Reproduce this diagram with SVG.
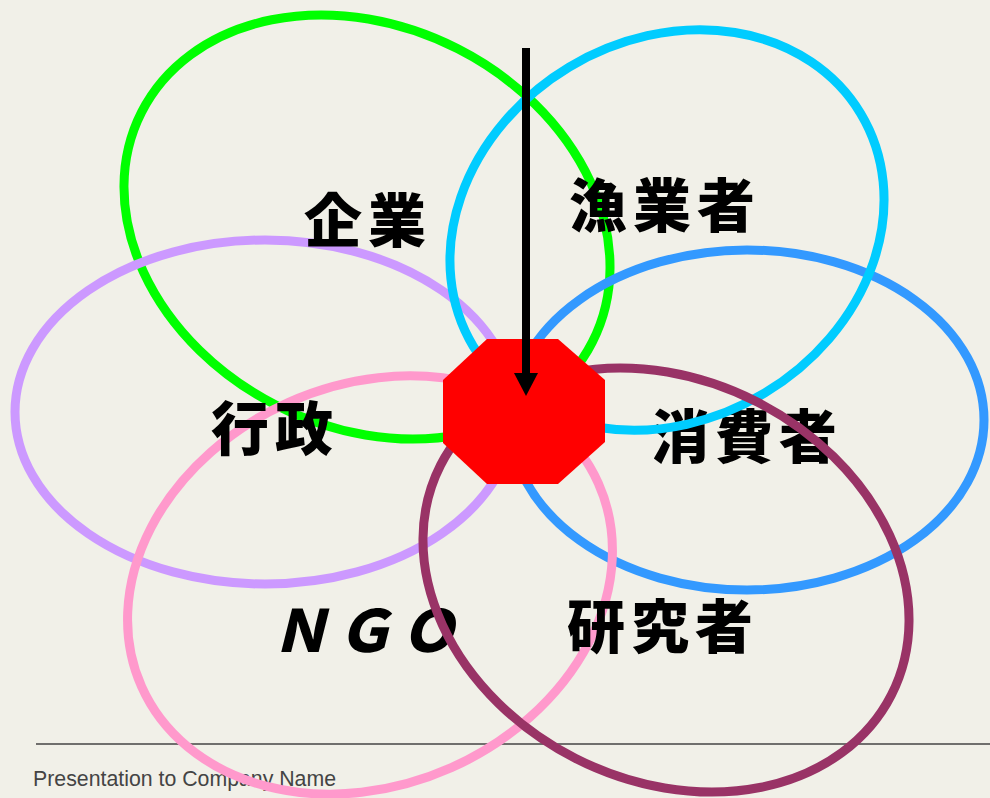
<svg xmlns="http://www.w3.org/2000/svg" width="990" height="798" viewBox="0 0 990 798">
<style>
.petal{fill:none;stroke-width:9}
.lbl{font-family:"Noto Sans CJK JP","Noto Sans CJK SC",sans-serif;font-weight:900;font-size:58px;fill:#000;text-anchor:middle;letter-spacing:6px}
.foot{font-family:"Liberation Sans",Arial,sans-serif;font-size:21.3px;fill:#444}
</style>
<defs>
<marker id="ah" markerWidth="23" markerHeight="24" refX="0" refY="12" orient="auto" markerUnits="userSpaceOnUse" viewBox="0 0 23 24">
<path d="M0,0 L23,12 L0,24 Z" fill="#000"/>
</marker>
</defs>
<rect width="990" height="798" fill="#F1F0E8"/>
<g id="footer">
<line x1="36" y1="744" x2="990" y2="744" stroke="#444" stroke-width="1.5"/>
<text class="foot" x="33" y="786">Presentation to Company Name</text>
</g>
<g id="node-kigyo"><ellipse class="petal" cx="367" cy="227" rx="253" ry="200" transform="rotate(27 367 227)" stroke="#00FF00"/></g>
<g id="node-gyosei"><ellipse class="petal" cx="265" cy="412" rx="250" ry="172" stroke="#CC99FF"/></g>
<g id="label-kigyo"><text class="lbl" x="368" y="242">企業</text></g>
<g id="node-shohisha"><ellipse class="petal" cx="747" cy="420" rx="237" ry="170" stroke="#3399FF"/></g>
<g id="label-shohisha"><text class="lbl" x="747" y="458">消費者</text></g>
<g id="node-gyogyosha"><ellipse class="petal" cx="667" cy="230" rx="226" ry="190" transform="rotate(-31 667 230)" stroke="#00CCFF"/></g>
<g id="label-gyogyosha"><text class="lbl" x="665" y="227">漁業者</text></g>
<g id="node-ngo"><ellipse class="petal" cx="370" cy="585" rx="250" ry="200" transform="rotate(-24 370 585)" stroke="#FF99CC"/></g>
<g id="label-gyosei"><text class="lbl" x="275" y="450">行政</text></g>
<g id="label-ngo"><text class="lbl" x="367" y="652" font-style="italic">ＮＧＯ</text></g>
<g id="node-kenkyusha"><ellipse class="petal" cx="666" cy="580" rx="253" ry="200" transform="rotate(27 666 580)" stroke="#993366"/></g>
<g id="label-kenkyusha"><text class="lbl" x="663" y="648">研究者</text></g>
<g id="node-center"><polygon points="487,339 558,339 605,380 605,442 558,484 487,484 443,443 443,380" fill="#FF0000"/></g>
<g id="connectors">
<line x1="526" y1="48" x2="526" y2="373" stroke="#000" stroke-width="8" marker-end="url(#ah)"/>
</g>
</svg>
